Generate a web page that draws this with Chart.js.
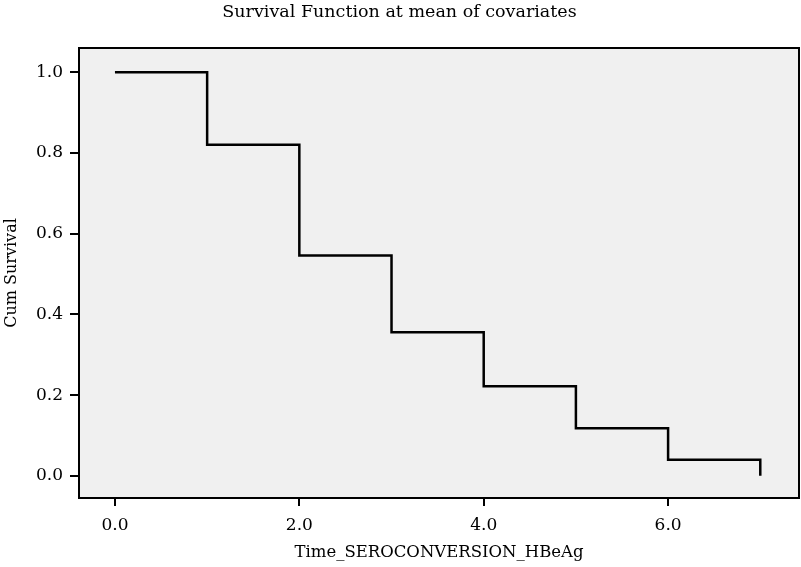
<!DOCTYPE html>
<html>
<head>
<meta charset="utf-8">
<script src="https://cdn.jsdelivr.net/npm/chart.js@4.4.1/dist/chart.umd.min.js"></script>
<style>
html,body{margin:0;padding:0;background:#fff;}
#c{display:block;}
</style>
</head>
<body>
<canvas id="c" width="801" height="567"></canvas>
<script>
// Data
const times = [0, 1, 2, 3, 4, 5, 6, 7];
const cumSurvival = [1.0, 0.82, 0.546, 0.356, 0.222, 0.118, 0.040, 0.0];
const xTicks = [0, 2, 4, 6];
const yTicks = [0.0, 0.2, 0.4, 0.6, 0.8, 1.0];

const FONT = "'DejaVu Serif', 'Liberation Serif', serif";

const plotFrame = {
  id: 'plotFrame',
  beforeDatasetsDraw(chart) {
    const {ctx, chartArea: a} = chart;
    ctx.save();
    ctx.fillStyle = '#f0f0f0';
    ctx.fillRect(a.left, a.top, a.right - a.left, a.bottom - a.top);
    ctx.restore();
  },
  afterDraw(chart) {
    const {ctx, chartArea: a} = chart;
    ctx.save();
    ctx.strokeStyle = '#000';
    ctx.lineWidth = 2;
    ctx.strokeRect(a.left, a.top, a.right - a.left, a.bottom - a.top);
    ctx.restore();
  }
};

new Chart(document.getElementById('c'), {
  type: 'line',
  data: {
    datasets: [{
      data: times.map((t, i) => ({x: t, y: cumSurvival[i]})),
      borderColor: '#000',
      borderWidth: 2.5,
      pointRadius: 0,
      stepped: 'before',
      fill: false
    }]
  },
  options: {
    responsive: false,
    animation: false,
    layout: {padding: {left: 0, right: 2, top: 0, bottom: 0}},
    plugins: {
      legend: {display: false},
      tooltip: {enabled: false},
      title: {
        display: true,
        text: 'Survival Function at mean of covariates',
        color: '#000',
        font: {family: FONT, size: 17.5, weight: 'normal', lineHeight: 1.2},
        padding: {top: 2, bottom: 25}
      }
    },
    scales: {
      x: {
        type: 'linear',
        min: -0.39,
        max: 7.42,
        afterBuildTicks(s) { s.ticks = xTicks.map(v => ({value: v})); },
        afterFit(s) { s.height = 69; },
        grid: {drawOnChartArea: false, drawTicks: true, tickLength: 8, color: '#000', lineWidth: 2},
        border: {display: true, color: '#000', width: 2},
        ticks: {
          color: '#000',
          padding: 9,
          font: {family: FONT, size: 17},
          callback: v => Number(v).toFixed(1)
        },
        title: {
          display: true,
          text: 'Time_SEROCONVERSION_HBeAg',
          color: '#000',
          font: {family: FONT, size: 16.5},
          padding: {top: 4, bottom: 4}
        }
      },
      y: {
        type: 'linear',
        min: -0.055,
        max: 1.06,
        afterBuildTicks(s) { s.ticks = yTicks.map(v => ({value: v})); },
        afterFit(s) { s.width = 79; },
        grid: {drawOnChartArea: false, drawTicks: true, tickLength: 9, color: '#000', lineWidth: 2},
        border: {display: true, color: '#000', width: 2},
        ticks: {
          color: '#000',
          padding: 7,
          font: {family: FONT, size: 17},
          callback: v => Number(v).toFixed(1)
        },
        title: {
          display: true,
          text: 'Cum Survival',
          color: '#000',
          font: {family: FONT, size: 16},
          padding: {top: 2, bottom: 4}
        }
      }
    }
  },
  plugins: [plotFrame]
});
</script>
</body>
</html>
